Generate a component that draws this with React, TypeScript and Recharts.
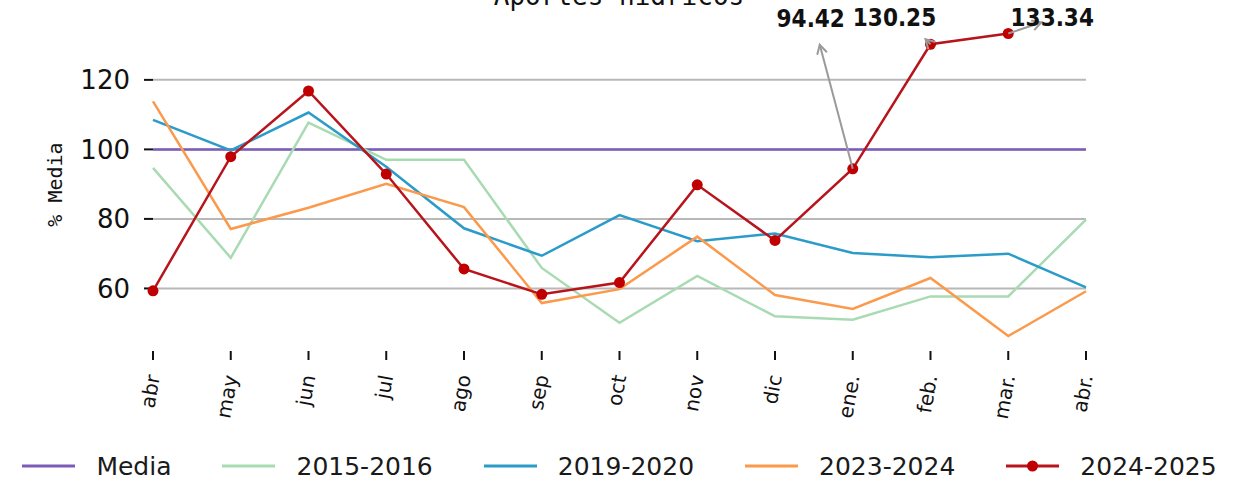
import { CartesianGrid, Legend, Line, LineChart, XAxis, YAxis } from "recharts"

const MONTHS = ["abr", "may", "jun", "jul", "ago", "sep", "oct", "nov", "dic", "ene.", "feb.", "mar.", "abr."]
const MEDIA = [100, 100, 100, 100, 100, 100, 100, 100, 100, 100, 100, 100, 100]
const S_2015_2016 = [94.7, 68.8, 107.7, 97, 97, 65.9, 50.1, 63.6, 52, 51, 57.7, 57.7, 79.8]
const S_2019_2020 = [108.5, 99.7, 110.6, 95, 77.3, 69.4, 81.1, 73.6, 75.8, 70.2, 69, 70, 60.3]
const S_2023_2024 = [113.8, 77.1, 83.2, 90.1, 83.4, 55.8, 59.8, 74.9, 58.1, 54.1, 63, 46.3, 59.2]
const S_2024_2025 = [59.3, 97.9, 116.8, 92.9, 65.6, 58.3, 61.7, 89.8, 73.8, 94.42, 130.25, 133.34, null]
const Y_TICKS = [60, 80, 100, 120]
const GRID_VALUES = [60, 80, 100, 120]

const SERIES = [
  { key: "media", name: "Media", color: "#7b5cb8", width: 2.5, dot: false },
  { key: "s1516", name: "2015-2016", color: "#a9dbb3", width: 2.5, dot: false },
  { key: "s1920", name: "2019-2020", color: "#2b9bc9", width: 2.5, dot: false },
  { key: "s2324", name: "2023-2024", color: "#fb9a4c", width: 2.5, dot: false },
  { key: "s2425", name: "2024-2025", color: "#b8141b", width: 2.5, dot: true },
]

const chartData = MONTHS.map((m, i) => ({
  idx: i,
  month: m,
  media: MEDIA[i],
  s1516: S_2015_2016[i],
  s1920: S_2019_2020[i],
  s2324: S_2023_2024[i],
  s2425: S_2024_2025[i],
}))

// where the value labels and their arrows sit, relative to each point
const ANNOT: Record<number, { tx: number; ty: number; ax: number; ay: number }> = {
  9: { tx: -42, ty: -150, ax: -33, ay: -124 },
  10: { tx: -36, ty: -26, ax: -5, ay: -5 },
  11: { tx: 44, ty: -16, ax: 33, ay: -11 },
}

function Arrow({ x1, y1, x2, y2 }: { x1: number; y1: number; x2: number; y2: number }) {
  const len = Math.hypot(x2 - x1, y2 - y1) || 1
  const ux = (x2 - x1) / len
  const uy = (y2 - y1) / len
  const px = -uy
  const py = ux
  const hx = x2 - 9 * ux
  const hy = y2 - 9 * uy
  return (
    <g stroke="#9a9a9a" strokeWidth={2} fill="none">
      <line x1={x1} y1={y1} x2={x2} y2={y2} />
      <polyline points={`${hx + 5 * px},${hy + 5 * py} ${x2},${y2} ${hx - 5 * px},${hy - 5 * py}`} />
    </g>
  )
}

function AnnotLabel(props: any) {
  const { x, y, index, value } = props
  const a = ANNOT[index]
  if (!a || value == null) return null
  return (
    <g>
      <Arrow x1={x} y1={y} x2={x + a.ax} y2={y + a.ay} />
      <text
        x={x + a.tx}
        y={y + a.ty}
        textAnchor="middle"
        dominantBaseline="central"
        fontFamily="'DejaVu Sans Condensed', 'DejaVu Sans'"
        fontWeight="bold"
        fontSize={24}
        fill="#111"
      >
        {Number(value).toFixed(2)}
      </text>
    </g>
  )
}

function MonthTick(props: any) {
  const { x, y, payload } = props
  return (
    <text
      transform={`translate(${x},${y + 13}) rotate(-80)`}
      textAnchor="end"
      dominantBaseline="central"
      fontFamily="DejaVu Sans"
      fontSize={20}
      fill="#111"
    >
      {MONTHS[payload.value]}
    </text>
  )
}

function YLabel(props: any) {
  const vb = props.viewBox
  const cy = vb.y + vb.height / 2
  return (
    <text
      transform={`translate(55,${cy}) rotate(-90)`}
      textAnchor="middle"
      dominantBaseline="central"
      fontFamily="DejaVu Sans Mono"
      fontSize={20}
      fill="#111"
    >
      % Media
    </text>
  )
}

function LegendContent() {
  return (
    <div
      style={{
        display: "flex",
        justifyContent: "center",
        alignItems: "center",
        height: 34,
        gap: 51,
        fontFamily: "DejaVu Sans",
        fontSize: 25,
        color: "#1a1a1a",
      }}
    >
      {SERIES.map((s) => (
        <div key={s.key} style={{ display: "flex", alignItems: "center" }}>
          <svg width={53} height={14}>
            <line x1={0} y1={7} x2={53} y2={7} stroke={s.color} strokeWidth={3} />
            {s.dot && <circle cx={26.5} cy={7} r={5.5} fill="#c00000" />}
          </svg>
          <span style={{ marginLeft: 21 }}>{s.name}</span>
        </div>
      ))}
    </div>
  )
}

export default function App() {
  return (
    <div style={{ position: "absolute", left: 0, top: 0, width: 1239, height: 483, background: "#fff" }}>
      <LineChart
        width={1239}
        height={483}
        data={chartData}
        margin={{ top: 18, right: 153, left: 40, bottom: 8 }}
      >
        <CartesianGrid
          vertical={false}
          horizontalValues={GRID_VALUES}
          stroke="#b8b8b8"
          strokeWidth={2}
        />
        <XAxis
          dataKey="idx"
          type="number"
          domain={[0, 12]}
          ticks={MONTHS.map((_, i) => i)}
          interval={0}
          axisLine={false}
          tickSize={9}
          tickLine={{ stroke: "#111", strokeWidth: 2 }}
          tick={<MonthTick />}
          height={90}
        />
        <YAxis
          type="number"
          domain={[42, 137.8]}
          ticks={Y_TICKS}
          allowDataOverflow
          axisLine={false}
          width={113}
          tickSize={9}
          tickMargin={14}
          tickLine={{ stroke: "#111", strokeWidth: 2 }}
          tick={{ fontSize: 26, fill: "#111", fontFamily: "DejaVu Sans" }}
          label={<YLabel />}
        />
        <Legend
          verticalAlign="bottom"
          height={34}
          content={<LegendContent />}
          wrapperStyle={{ left: 0, width: 1239, bottom: 0 }}
        />
        {SERIES.map((s) => (
          <Line
            key={s.key}
            type="linear"
            dataKey={s.key}
            name={s.name}
            stroke={s.color}
            strokeWidth={s.width}
            dot={s.dot ? { r: 5.5, fill: "#c00000", stroke: "#c00000", strokeWidth: 0 } : false}
            activeDot={false}
            label={s.key === "s2425" ? <AnnotLabel /> : undefined}
            isAnimationActive={false}
          />
        ))}
      </LineChart>
      <svg
        width={1239}
        height={30}
        style={{ position: "absolute", left: 0, top: 0, pointerEvents: "none" }}
      >
        <text x={619} y={5} textAnchor="middle" fontFamily="DejaVu Sans Mono" fontSize={26} fill="#111">
          Aportes hídricos
        </text>
      </svg>
    </div>
  )
}
